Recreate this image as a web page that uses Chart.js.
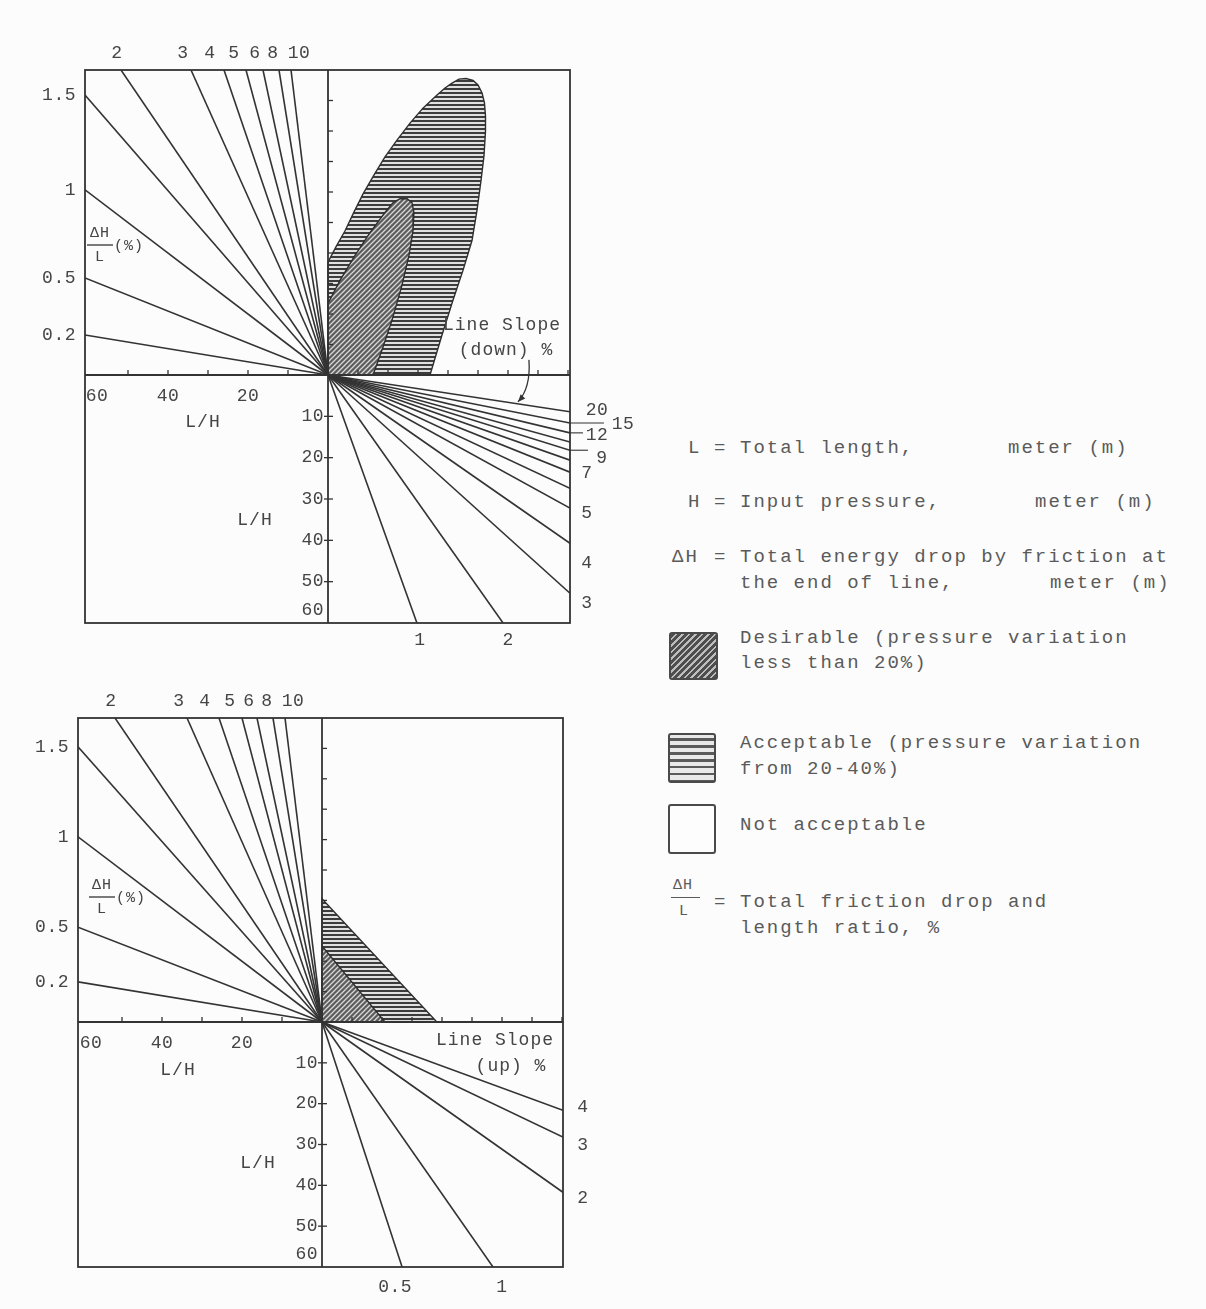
<!DOCTYPE html>
<html>
<head>
<meta charset="utf-8">
<script src="https://cdn.jsdelivr.net/npm/chart.js@4.4.1/dist/chart.umd.min.js"></script>
<style>
  html, body { margin: 0; padding: 0; background: #fcfcfc; }
  body { width: 1206px; height: 1309px; position: relative; overflow: hidden;
         font-family: "Liberation Mono", "DejaVu Sans Mono", monospace; color: #5a5a5a; }
  canvas.panel { position: absolute; left: 0; }
  #chartDown { top: 0; }
  #chartUp { top: 670px; }
  .t { position: absolute; font-size: 19px; letter-spacing: 2px; white-space: pre; line-height: 24px; }
  .sm { font-size: 15px; letter-spacing: 1px; }
  .box { position: absolute; box-sizing: border-box; border: 2px solid #4a4a4a; border-radius: 3px; }
  .bar { position: absolute; height: 0; border-top: 1.5px solid #5a5a5a; }
</style>
</head>
<body>
<canvas id="chartDown" class="panel" width="660" height="670"></canvas>
<canvas id="chartUp" class="panel" width="660" height="639"></canvas>

<!-- legend / definitions -->
<div class="t" style="left:688px;top:436px">L</div>
<div class="t" style="left:714px;top:436px">=</div>
<div class="t" style="left:740px;top:436px">Total length,</div>
<div class="t" style="left:1008px;top:436px">meter (m)</div>

<div class="t" style="left:688px;top:490px">H</div>
<div class="t" style="left:714px;top:490px">=</div>
<div class="t" style="left:740px;top:490px">Input pressure,</div>
<div class="t" style="left:1035px;top:490px">meter (m)</div>

<div class="t" style="left:672px;top:545px">ΔH</div>
<div class="t" style="left:714px;top:545px">=</div>
<div class="t" style="left:740px;top:545px">Total energy drop by friction at</div>
<div class="t" style="left:740px;top:571px">the end of line,</div>
<div class="t" style="left:1050px;top:571px">meter (m)</div>

<div class="box" style="left:669px;top:632px;width:49px;height:48px;
  background:repeating-linear-gradient(135deg,#4e4e4e 0 3px,#bdbdbd 3px 4.6px)"></div>
<div class="t" style="left:740px;top:626px">Desirable (pressure variation</div>
<div class="t" style="left:740px;top:651px">less than 20%)</div>

<div class="box" style="left:668px;top:733px;width:48px;height:50px;
  background:repeating-linear-gradient(180deg,#e8e8e8 0 3px,#5a5a5a 3px 5.5px,#e8e8e8 5.5px 7px)"></div>
<div class="t" style="left:740px;top:731px">Acceptable (pressure variation</div>
<div class="t" style="left:740px;top:757px">from 20-40%)</div>

<div class="box" style="left:668px;top:804px;width:48px;height:50px;background:#fdfdfd"></div>
<div class="t" style="left:740px;top:813px">Not acceptable</div>

<div class="t sm" style="left:673px;top:874px">ΔH</div>
<div class="bar" style="left:671px;top:897px;width:29px"></div>
<div class="t sm" style="left:679px;top:900px">L</div>
<div class="t" style="left:714px;top:890px">=</div>
<div class="t" style="left:740px;top:890px">Total friction drop and</div>
<div class="t" style="left:740px;top:916px">length ratio, %</div>

<script>
// ---------- data read off the nomograph ----------
// upper-left fan: ΔH/L (%) lines; end points as (L/H, ΔH/H)
const fanLabels = ['0.2', '0.5', '1', '1.5', '2', '3', '4', '5', '6', '8', '10'];
const fanLHDown = [60.75, 60.75, 60.75, 60.75, 51.75, 34.25, 26, 20.5, 16.25, 12.25, 9.25];
const fanDHDown = [0.131, 0.318, 0.607, 0.918, 1, 1, 1, 1, 1, 1, 1];
const fanLHUp = [61, 61, 61, 61, 51.75, 33.75, 25.75, 20, 16.25, 12.25, 9.25];
const fanDHUp = [0.132, 0.312, 0.609, 0.905, 1, 1, 1, 1, 1, 1, 1];

// lower-right fan: line slope (%) lines; end points as (ΔZ/H, L/H)
const downSlopes = ['20', '15', '12', '10', '9', '8', '7', '6', '5', '4', '3', '2', '1'];
const downShown = ['20', '15', '12', '9', '7', '5', '4', '3', '2', '1'];
const downEndZ = [1.613, 1.613, 1.613, 1.613, 1.613, 1.613, 1.613, 1.613, 1.613, 1.613, 1.613, 1.167, 0.593];
const downEndLH = [8.9, 11.6, 14.0, 16.2, 18.2, 20.6, 23.5, 27.4, 32.2, 40.7, 52.8, 60, 60];
const upSlopes = ['4', '3', '2', '1', '0.5'];
const upShown = ['4', '3', '2', '1', '0.5'];
const upEndZ = [0.803, 0.803, 0.803, 0.57, 0.267];
const upEndLH = [21.6, 28.2, 41.7, 60, 60];

// upper-right zones (ΔZ/H, ΔH/H)
const accDownZ = [0, 0, 0.053, 0.113, 0.173, 0.233, 0.307, 0.38, 0.46, 0.547, 0.633, 0.727, 0.78, 0.827, 0.873,
  0.92, 0.967, 1.0, 1.027, 1.043, 1.05, 1.05, 1.04, 1.02, 0.993, 0.96, 0.9, 0.833, 0.76, 0.68, 0];
const accDownDH = [0, 0.37, 0.42, 0.472, 0.534, 0.593, 0.656, 0.715, 0.77, 0.826, 0.875, 0.918, 0.941, 0.957, 0.97,
  0.972, 0.966, 0.951, 0.925, 0.892, 0.85, 0.80, 0.719, 0.637, 0.539, 0.441, 0.343, 0.245, 0.131, 0, 0];
const desDownZ = [0, 0, 0.08, 0.18, 0.28, 0.38, 0.433, 0.48, 0.527, 0.56, 0.573, 0.567, 0.54, 0.493, 0.427, 0.36, 0.3, 0];
const desDownDH = [0, 0.235, 0.31, 0.392, 0.467, 0.533, 0.565, 0.578, 0.578, 0.565, 0.533, 0.474, 0.392, 0.294, 0.18, 0.082, 0, 0];
const accUpZ = [0, 0, 0.383, 0];
const accUpDH = [0, 0.405, 0, 0];
const desUpZ = [0, 0, 0.21, 0];
const desUpDH = [0, 0.25, 0, 0];

// axis ticks
const lhTicks = [10, 20, 30, 40, 50];
const lhVertLabels = [10, 20, 30, 40, 50, 60];
const lhHorizLabels = [60, 40, 20];
const dhTicks = [0.1, 0.2, 0.3, 0.4, 0.5, 0.6, 0.7, 0.8, 0.9];
const zTicksDown = [0.2, 0.4, 0.6, 0.8, 1.0, 1.2, 1.4, 1.6];
const zTicksUp = [0.1, 0.2, 0.3, 0.4, 0.5, 0.6, 0.7, 0.8];

// ---------- style ----------
const INK = '#333333';
const TXT = '#454545';
const FONT = '"Liberation Mono", "DejaVu Sans Mono", monospace';
const fanTopNudge = [-4, -8, -14, -12, -8, -6, 8];

function hatch(kind) {
  const c = document.createElement('canvas');
  const g = c.getContext('2d');
  if (kind === 'h') {
    c.width = 6; c.height = 4;
    g.fillStyle = '#e0e0e0'; g.fillRect(0, 0, 6, 4);
    g.fillStyle = '#3c3c3c'; g.fillRect(0, 0, 6, 2);
  } else {
    c.width = 5; c.height = 5;
    g.fillStyle = '#5c5c5c'; g.fillRect(0, 0, 5, 5);
    g.strokeStyle = '#d8d8d8'; g.lineWidth = 1.3;
    g.beginPath();
    g.moveTo(-1, 6); g.lineTo(6, -1);
    g.moveTo(-1, 1); g.lineTo(1, -1);
    g.moveTo(4, 6); g.lineTo(6, 4);
    g.stroke();
  }
  return g.createPattern(c, 'repeat');
}

function seg(ctx, x1, y1, x2, y2) {
  ctx.beginPath(); ctx.moveTo(x1, y1); ctx.lineTo(x2, y2); ctx.stroke();
}
function txt(ctx, s, x, y, align) {
  ctx.textAlign = align || 'center';
  ctx.fillText(s, x, y);
}

function overlay(p) {
  return {
    id: 'overlay',
    afterDatasetsDraw(chart) {
      const { ctx, chartArea: a } = chart;
      const { xL, xR, yU, yL } = chart.scales;
      const ox = xL.getPixelForValue(0), oy = yU.getPixelForValue(0);
      ctx.save();
      ctx.strokeStyle = INK;
      ctx.lineWidth = 1.8;
      ctx.strokeRect(a.left, a.top, a.right - a.left, a.bottom - a.top);
      seg(ctx, a.left, oy, a.right, oy);
      seg(ctx, ox, a.top, ox, a.bottom);

      ctx.lineWidth = 1.3;
      lhTicks.forEach(v => { const x = xL.getPixelForValue(v); seg(ctx, x, oy, x, oy - 5); });
      p.zTicks.forEach(v => { const x = xR.getPixelForValue(v); seg(ctx, x, oy, x, oy - 5); });
      dhTicks.forEach(v => { const y = yU.getPixelForValue(v); seg(ctx, ox, y, ox + 5, y); });
      lhTicks.forEach(v => { const y = yL.getPixelForValue(v); seg(ctx, ox - 4, y, ox + 5, y); });

      ctx.fillStyle = TXT;
      ctx.textBaseline = 'middle';
      ctx.font = '18px ' + FONT;
      ctx.letterSpacing = '0.5px';

      // ΔH/L line labels
      p.fanLH.forEach((lh, i) => {
        if (i < 4) {
          txt(ctx, fanLabels[i], a.left - 9, yU.getPixelForValue(p.fanDH[i]), 'right');
        } else {
          txt(ctx, fanLabels[i], xL.getPixelForValue(lh) + fanTopNudge[i - 4], a.top - 17);
        }
      });
      // L/H labels
      lhHorizLabels.forEach(v => {
        txt(ctx, String(v), xL.getPixelForValue(v) + (v === 60 ? 9 : 0), oy + 21);
      });
      lhVertLabels.forEach(v => {
        txt(ctx, String(v), ox - 4, yL.getPixelForValue(v) + (v === 60 ? -13 : 0), 'right');
      });
      // slope labels
      p.slopes.forEach((s, i) => {
        if (!p.shown.includes(s)) return;
        const ex = xR.getPixelForValue(p.endZ[i]), ey = yL.getPixelForValue(p.endLH[i]);
        const o = p.slopeOff[s];
        if (o[2]) { ctx.lineWidth = 1.1; seg(ctx, ex, ey, ex + o[2], ey); }
        txt(ctx, s, ex + o[0], ey + o[1]);
      });
      // inner captions
      ctx.letterSpacing = '1px';
      p.captions.forEach(c => txt(ctx, c[0], ox + c[1], oy + c[2]));

      // ΔH/L (%) fraction
      const fx = ox + p.frac[0], fy = oy + p.frac[1];
      ctx.font = '15px ' + FONT;
      txt(ctx, 'ΔH', fx, fy - 12);
      txt(ctx, 'L', fx, fy + 12);
      txt(ctx, '(%)', fx + 14, fy + 1, 'left');
      ctx.lineWidth = 1.3;
      seg(ctx, fx - 13, fy, fx + 13, fy);

      // arrow to the steepest downhill line
      if (p.arrowTo) {
        const i = p.slopes.indexOf(p.arrowTo);
        const ex = xR.getPixelForValue(p.endZ[i]), ey = yL.getPixelForValue(p.endLH[i]);
        const t = 0.785;
        const tx = ox + t * (ex - ox), ty = oy + t * (ey - oy) - 2;
        const cx = tx + 13, cy = ty - 14;
        ctx.lineWidth = 1.3;
        ctx.beginPath();
        ctx.moveTo(tx + 11, ty - 42);
        ctx.quadraticCurveTo(cx, cy, tx, ty);
        ctx.stroke();
        const ang = Math.atan2(ty - cy, tx - cx);
        ctx.beginPath();
        ctx.moveTo(tx, ty);
        ctx.lineTo(tx - 8 * Math.cos(ang - 0.4), ty - 8 * Math.sin(ang - 0.4));
        ctx.lineTo(tx - 8 * Math.cos(ang + 0.4), ty - 8 * Math.sin(ang + 0.4));
        ctx.closePath();
        ctx.fillStyle = INK;
        ctx.fill();
      }
      ctx.restore();
    }
  };
}

function lineSet(xAxisID, yAxisID, x, y) {
  return {
    xAxisID, yAxisID,
    data: [{ x: 0, y: 0 }, { x, y }],
    borderColor: INK, borderWidth: 1.6, pointRadius: 0, fill: false, order: 0
  };
}
function zoneSet(zs, dhs, pattern, order) {
  return {
    xAxisID: 'xR', yAxisID: 'yU',
    data: zs.map((z, i) => ({ x: z, y: dhs[i] })),
    borderColor: '#2e2e2e', borderWidth: 1.4, pointRadius: 0,
    backgroundColor: pattern, fill: 'shape', tension: 0, order
  };
}

function makePanel(id, p) {
  const g = p.geo;
  const pxLHv = (g.bottom - g.oy) / 60;
  const datasets = [
    zoneSet(p.accZ, p.accDH, hatch('h'), 3),
    zoneSet(p.desZ, p.desDH, hatch('d'), 2)
  ];
  p.fanLH.forEach((lh, i) => datasets.push(lineSet('xL', 'yU', lh, p.fanDH[i])));
  p.slopes.forEach((s, i) => datasets.push(lineSet('xR', 'yL', p.endZ[i], p.endLH[i])));

  new Chart(document.getElementById(id), {
    type: 'line',
    data: { datasets },
    options: {
      responsive: false,
      animation: false,
      events: [],
      layout: {
        padding: {
          left: g.left, right: 660 - g.right,
          top: g.top - g.canvasTop, bottom: g.canvasTop + g.canvasH - g.bottom
        }
      },
      plugins: { legend: { display: false }, tooltip: { enabled: false } },
      scales: {
        xL: { type: 'linear', display: false, reverse: true,
              min: -(g.right - g.ox) / g.pxLH, max: (g.ox - g.left) / g.pxLH },
        xR: { type: 'linear', display: false,
              min: -(g.ox - g.left) / g.pxZ, max: (g.right - g.ox) / g.pxZ },
        yU: { type: 'linear', display: false,
              min: -(g.bottom - g.oy) / g.pxDH, max: (g.oy - g.top) / g.pxDH },
        yL: { type: 'linear', display: false, reverse: true,
              min: -(g.oy - g.top) / pxLHv, max: 60 }
      }
    },
    plugins: [overlay(p)]
  });
}

makePanel('chartDown', {
  geo: { canvasTop: 0, canvasH: 670, left: 85, right: 570, top: 70, bottom: 623, ox: 328, oy: 375, pxLH: 4, pxZ: 150, pxDH: 305 },
  fanLH: fanLHDown, fanDH: fanDHDown,
  slopes: downSlopes, shown: downShown, endZ: downEndZ, endLH: downEndLH,
  accZ: accDownZ, accDH: accDownDH, desZ: desDownZ, desDH: desDownDH,
  zTicks: zTicksDown,
  slopeOff: { '20': [27, -2, 0], '15': [53, 1, 34], '12': [27, 2, 13], '9': [32, 8, 18], '7': [17, 1, 0],
              '5': [17, 5, 0], '4': [17, 20, 0], '3': [17, 10, 0], '2': [5, 17, 0], '1': [3, 17, 0] },
  captions: [['L/H', -125, 47], ['L/H', -73, 145], ['Line Slope', 174, -50], ['(down) %', 178, -25]],
  frac: [-228, -130],
  arrowTo: '20'
});

makePanel('chartUp', {
  geo: { canvasTop: 670, canvasH: 639, left: 78, right: 563, top: 718, bottom: 1267, ox: 322, oy: 1022, pxLH: 4, pxZ: 300, pxDH: 304 },
  fanLH: fanLHUp, fanDH: fanDHUp,
  slopes: upSlopes, shown: upShown, endZ: upEndZ, endLH: upEndLH,
  accZ: accUpZ, accDH: accUpDH, desZ: desUpZ, desDH: desUpDH,
  zTicks: zTicksUp,
  slopeOff: { '4': [20, -3, 0], '3': [20, 8, 0], '2': [20, 6, 0], '1': [9, 20, 0], '0.5': [-7, 20, 0] },
  captions: [['L/H', -144, 48], ['L/H', -64, 141], ['Line Slope', 173, 18], ['(up) %', 189, 44]],
  frac: [-220, -125],
  arrowTo: null
});
</script>
</body>
</html>
